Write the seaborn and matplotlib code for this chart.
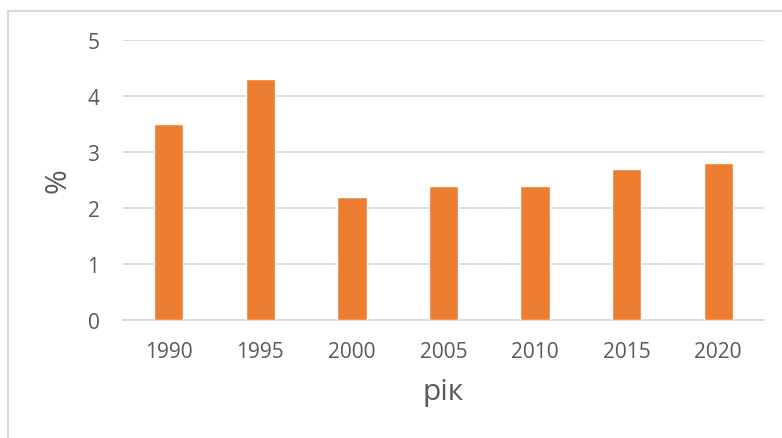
import matplotlib
matplotlib.use("Agg")
import matplotlib.pyplot as plt
import seaborn as sns
import pandas as pd
from matplotlib.lines import Line2D

years = ["1990", "1995", "2000", "2005", "2010", "2015", "2020"]
values = [3.5, 4.3, 2.2, 2.4, 2.4, 2.7, 2.8]
yticks = [0, 1, 2, 3, 4, 5]

sns.set_theme(style="white")
plt.rcParams['font.family'] = ['Open Sans', 'DejaVu Sans']

df = pd.DataFrame({"year": years, "value": values})

W, H = 782, 439
fig = plt.figure(figsize=(W/100, H/100), dpi=100)
ax = fig.add_axes([123/W, 1-321/H, (764-123)/W, (321-41)/H])

sns.barplot(data=df, x="year", y="value", color="#ED7D31", width=0.32,
            saturation=1, ax=ax, zorder=3)

ax.set_ylim(0, 5)
ax.set_yticks(yticks)
ax.set_xlim(-0.5, len(years)-0.5)
ax.yaxis.grid(True, color="#d9d9d9", linewidth=1.3, zorder=0)
ax.set_axisbelow(True)
for s in ["top", "right", "left"]:
    ax.spines[s].set_visible(False)
ax.spines["bottom"].set_color("#d9d9d9")
ax.spines["bottom"].set_linewidth(1.3)
ax.tick_params(axis="both", length=0, colors="#595959", labelsize=15)
ax.tick_params(axis="y", pad=17)
ax.tick_params(axis="x", pad=15)
ax.set_xlabel("рік", fontsize=21.5, color="#595959", labelpad=11)
ax.set_ylabel("%", fontsize=21.5, color="#595959", labelpad=11)

# outer chart border (partially cropped)
fig.add_artist(Line2D([8/W, 8/W], [0, 1-12/H], transform=fig.transFigure,
                      color="#d9d9d9", linewidth=1.5))
fig.add_artist(Line2D([8/W, 1], [1-12/H, 1-12/H], transform=fig.transFigure,
                      color="#d9d9d9", linewidth=1.5))

fig.savefig("out.png", dpi=100)
